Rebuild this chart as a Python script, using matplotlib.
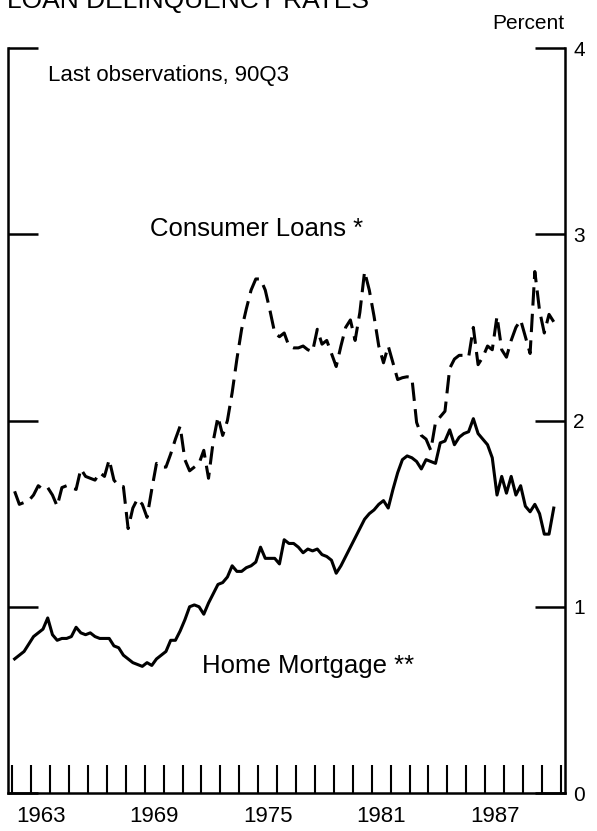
import matplotlib
matplotlib.use("Agg")
import matplotlib.pyplot as plt
import numpy as np

plt.rcParams['font.family'] = ['Liberation Sans', 'DejaVu Sans']

# quarterly data, 1962Q1 - 1990Q3 (percent)
start_year = 1962
mortgage = [
    0.72, 0.74, 0.76, 0.80,   # 1962
    0.84, 0.86, 0.88, 0.94,   # 1963
    0.85, 0.82, 0.83, 0.83,   # 1964
    0.84, 0.89, 0.86, 0.85,   # 1965
    0.86, 0.84, 0.83, 0.83,   # 1966
    0.83, 0.79, 0.78, 0.74,   # 1967
    0.72, 0.70, 0.69, 0.68,   # 1968
    0.70, 0.685, 0.72, 0.74,  # 1969
    0.76, 0.82, 0.82, 0.87,   # 1970
    0.93, 1.00, 1.01, 1.00,   # 1971
    0.96, 1.02, 1.07, 1.12,   # 1972
    1.13, 1.16, 1.22, 1.19,   # 1973
    1.19, 1.21, 1.22, 1.24,   # 1974
    1.32, 1.26, 1.26, 1.26,   # 1975
    1.23, 1.36, 1.34, 1.34,   # 1976
    1.32, 1.29, 1.31, 1.30,   # 1977
    1.31, 1.28, 1.27, 1.25,   # 1978
    1.18, 1.22, 1.27, 1.32,   # 1979
    1.37, 1.42, 1.47, 1.50,   # 1980
    1.52, 1.55, 1.57, 1.53,   # 1981
    1.63, 1.72, 1.79, 1.81,   # 1982
    1.80, 1.78, 1.74, 1.79,   # 1983
    1.78, 1.77, 1.88, 1.89,   # 1984
    1.95, 1.87, 1.91, 1.93,   # 1985
    1.94, 2.01, 1.93, 1.90,   # 1986
    1.87, 1.80, 1.60, 1.70,   # 1987
    1.61, 1.70, 1.60, 1.65,   # 1988
    1.54, 1.51, 1.55, 1.50,   # 1989
    1.39, 1.39, 1.53,         # 1990
]
consumer = [
    1.62, 1.55, 1.56, 1.57,   # 1962
    1.60, 1.65, 1.63, 1.64,   # 1963
    1.60, 1.54, 1.64, 1.65,   # 1964
    1.64, 1.63, 1.74, 1.70,   # 1965
    1.69, 1.68, 1.72, 1.70,   # 1966
    1.79, 1.68, 1.65, 1.645,  # 1967
    1.42, 1.53, 1.58, 1.55,   # 1968
    1.48, 1.63, 1.77, 1.75,   # 1969
    1.75, 1.82, 1.90, 1.97,   # 1970
    1.79, 1.73, 1.75, 1.77,   # 1971
    1.84, 1.69, 1.89, 2.02,   # 1972
    1.92, 2.00, 2.15, 2.33,   # 1973
    2.49, 2.60, 2.70, 2.76,   # 1974
    2.76, 2.70, 2.59, 2.47,   # 1975
    2.45, 2.47, 2.40, 2.39,   # 1976
    2.39, 2.40, 2.38, 2.37,   # 1977
    2.49, 2.41, 2.43, 2.36,   # 1978
    2.29, 2.40, 2.50, 2.54,   # 1979
    2.43, 2.58, 2.80, 2.70,   # 1980
    2.56, 2.40, 2.31, 2.40,   # 1981
    2.31, 2.22, 2.23, 2.235,  # 1982
    2.23, 1.99, 1.92, 1.90,   # 1983
    1.84, 1.99, 2.02, 2.05,   # 1984
    2.28, 2.33, 2.35, 2.35,   # 1985
    2.34, 2.50, 2.30, 2.34,   # 1986
    2.40, 2.38, 2.56, 2.38,   # 1987
    2.34, 2.43, 2.50, 2.54,   # 1988
    2.45, 2.36, 2.80, 2.59,   # 1989
    2.47, 2.57, 2.53,         # 1990
]
year_labels = ['1963', '1969', '1975', '1981', '1987']
y_labels = ['0', '1', '2', '3', '4']

# quarter midpoints
t = start_year + np.arange(len(mortgage)) / 4 + 0.125

fig = plt.figure(figsize=(5.97, 8.31), dpi=100)
ax = fig.add_axes([0.0126, 0.0457, 0.9338, 0.8965])

ax.plot(t, consumer, color='black', lw=2.2, linestyle=(0, (6, 2.7)))
ax.plot(t, mortgage, color='black', lw=2.2)

ax.set_xlim(1961.75, 1991.22)
ax.set_ylim(0, 4)

for s in ['left', 'right', 'bottom']:
    ax.spines[s].set_linewidth(1.8)
ax.spines['top'].set_visible(False)

# year ticks, labels in the middle of the year
ax.set_xticks(np.arange(1962, 1992))
ax.set_xticklabels([])
ax.tick_params(axis='x', which='major', direction='in', length=20, width=1.5)
ax.set_xticks([int(y) + 0.5 for y in year_labels], minor=True)
ax.set_xticklabels(year_labels, minor=True, fontsize=16)
ax.tick_params(axis='x', which='minor', length=0, pad=9)

ax.set_yticks(range(5))
ax.set_yticklabels(y_labels, fontsize=15)
ax.tick_params(axis='y', direction='in', length=21.5, width=1.8,
               left=True, right=True, labelleft=False, labelright=True, pad=6)

ax.text(1963.87, 3.85, 'Last observations, 90Q3', fontsize=16, va='center')
ax.text(1969.28, 3.03, 'Consumer Loans *', fontsize=18.5, va='center')
ax.text(1972.03, 0.68, 'Home Mortgage **', fontsize=18.5, va='center')

fig.text(0.945, 0.9723, 'Percent', fontsize=15, ha='right', va='center')
fig.text(0.012, 0.9909, 'LOAN DELINQUENCY RATES', fontsize=19, va='baseline')

fig.savefig('out.png', dpi=100)
